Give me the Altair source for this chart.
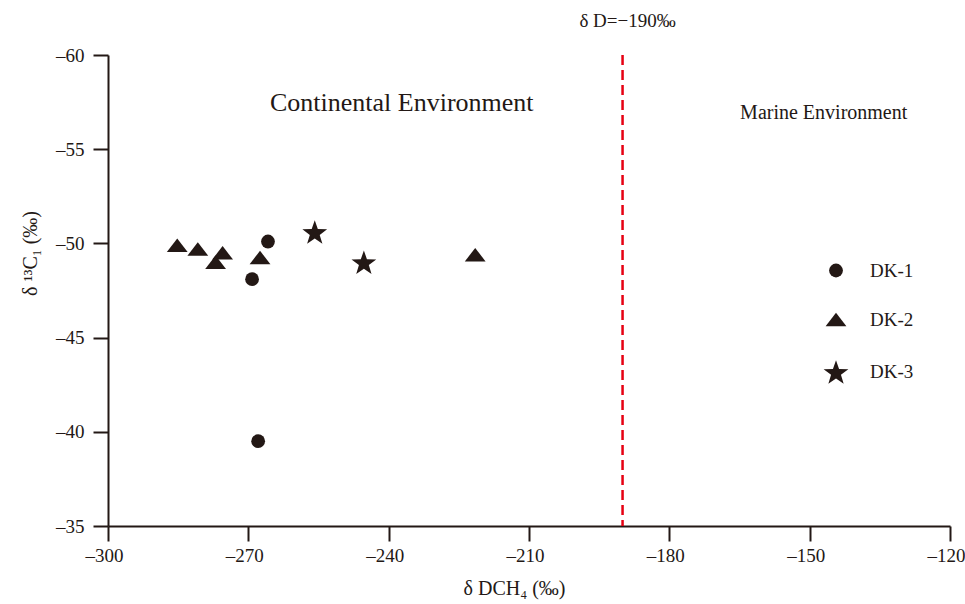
import altair as alt
import pandas as pd

# ---- data ----
dk1_x = [-265.8, -269.2, -267.9]
dk1_y = [-50.1, -48.1, -39.5]
dk2_x = [-285.2, -280.8, -275.5, -277.0, -267.5, -221.5]
dk2_y = [-49.9, -49.7, -49.5, -49.0, -49.25, -49.4]
dk3_x = [-255.8, -245.3]
dk3_y = [-50.6, -49.0]

series = ["DK-1", "DK-2", "DK-3"]
x_ticks = [-300, -270, -240, -210, -180, -150, -120]
y_ticks = [-60, -55, -50, -45, -40, -35]
boundary_x = -190

rows = []
for name, xs, ys in [("DK-1", dk1_x, dk1_y), ("DK-2", dk2_x, dk2_y), ("DK-3", dk3_x, dk3_y)]:
    for a, b in zip(xs, ys):
        rows.append({"dD": a, "d13C": b, "well": name})
df = pd.DataFrame(rows)

ink = "#231815"
font = "Liberation Serif"

tri = "M-1,0.65L1,0.65L0,-0.65Z"
star = ("M0,-0.905L0.235,-0.229L0.951,-0.214L0.380,0.219L0.588,0.904L0,0.495"
        "L-0.588,0.904L-0.380,0.219L-0.951,-0.214L-0.235,-0.229Z")

xscale = alt.Scale(domain=[-300, -120], nice=False, zero=False)
yscale = alt.Scale(domain=[-60, -35], reverse=True, nice=False, zero=False)

legend = alt.Legend(
    title=None, orient="none", legendX=714, legendY=206,
    labelFont=font, labelFontSize=19, labelColor=ink,
    rowPadding=27, labelOffset=20, padding=0,
)

dash_expr = "replace(datum.label, '−', '–')"

points = alt.Chart(df).mark_point(filled=True, opacity=1, strokeWidth=0, color=ink).encode(
    x=alt.X("dD:Q", scale=xscale,
            axis=alt.Axis(values=x_ticks, title="δ DCH₄ (‰)", grid=False, labelExpr=dash_expr,
                          labelOffset=-4, labelPadding=5, titleX=406, titleY=52,
                          titleAlign="center", titleBaseline="top")),
    y=alt.Y("d13C:Q", scale=yscale,
            axis=alt.Axis(values=y_ticks, title="δ ¹³C₁ (‰)", grid=False, labelExpr=dash_expr,
                          labelPadding=9, titleX=-78, titleY=198, titleAngle=270,
                          titleAlign="center", titleBaseline="middle")),
    shape=alt.Shape("well:O", scale=alt.Scale(domain=series, range=["circle", tri, star]), legend=legend),
    size=alt.Size("well:O", scale=alt.Scale(domain=series, range=[190, 676, 800]), legend=legend),
)

rule = alt.Chart(pd.DataFrame({"x": [boundary_x]})).mark_rule(
    color="#e60012", strokeWidth=2.5, strokeDash=[10, 5]
).encode(x=alt.X("x:Q", scale=xscale))

cont_df = pd.DataFrame({"x": [-237.2], "y": [-57.45], "t": ["Continental Environment"]})
marine_df = pd.DataFrame({"x": [-147.0], "y": [-56.9], "t": ["Marine  Environment"]})

labels_big = alt.Chart(cont_df).mark_text(font=font, fontSize=26, color=ink).encode(
    x=alt.X("x:Q", scale=xscale), y=alt.Y("y:Q", scale=yscale), text="t:N")
labels_small = alt.Chart(marine_df).mark_text(font=font, fontSize=20, color=ink).encode(
    x=alt.X("x:Q", scale=xscale), y=alt.Y("y:Q", scale=yscale), text="t:N")

top_label = alt.Chart(pd.DataFrame({"x": [boundary_x], "t": ["δ D=−190‰"]})).mark_text(
    font=font, fontSize=19, color=ink, dx=5
).encode(x=alt.X("x:Q", scale=xscale), y=alt.value(-34), text="t:N")

chart = alt.layer(rule, points, labels_big, labels_small, top_label).properties(
    width=842, height=471,
    autosize=alt.AutoSizeParams(type="none"),
    padding={"left": 108, "top": 55, "right": 15, "bottom": 78},
).configure_view(stroke=None).configure_axis(
    domainColor=ink, domainWidth=2, tickColor=ink, tickWidth=2, tickSize=15,
    labelFont=font, labelFontSize=19, labelColor=ink,
    titleFont=font, titleFontSize=20, titleColor=ink, titleFontWeight="normal",
).configure_axisX(labelFlush=False).configure_axisY(labelFlush=False)

chart.save("out.html", embed_options={"renderer": "svg", "actions": False})
